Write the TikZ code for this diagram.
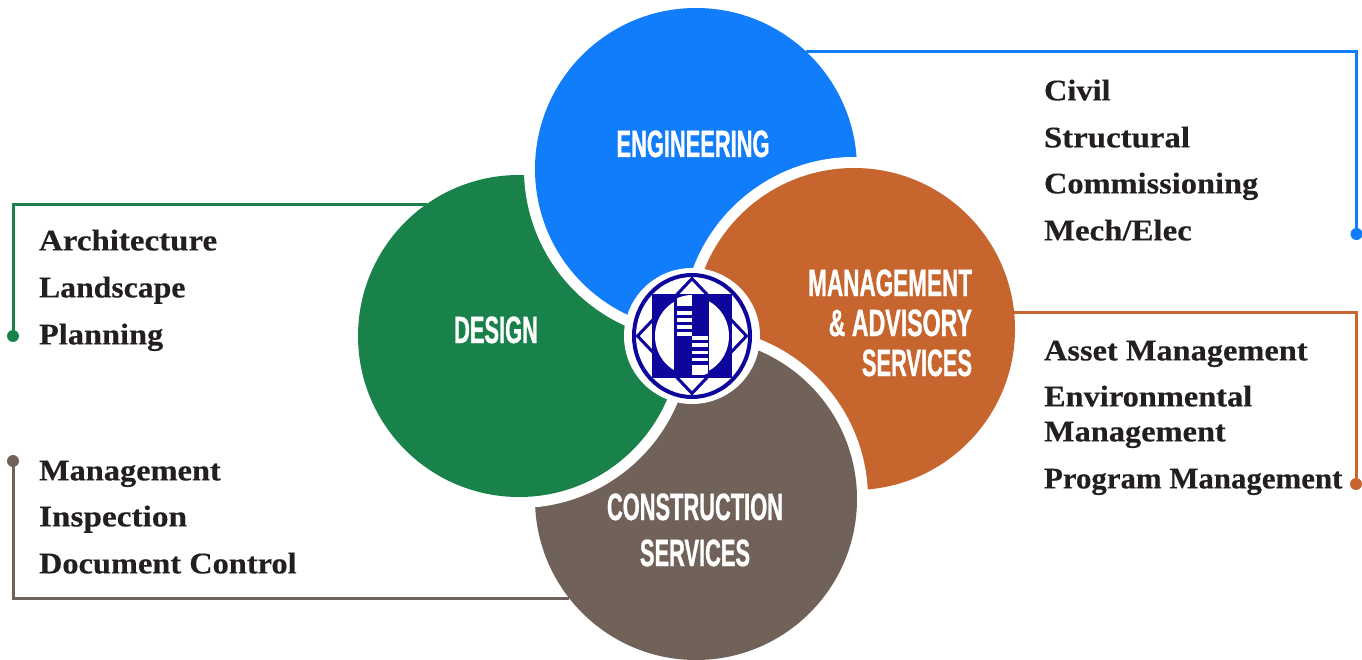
\documentclass[tikz,border=0pt]{standalone}
\usepackage{fontspec}
\newfontfamily\itemfont[FakeStretch=1.08,FakeBold=0.35]{Liberation Serif Bold}
\newfontfamily\headfont[FakeStretch=0.575,FakeBold=0.8]{Liberation Sans Bold}
\definecolor{cblue}{HTML}{117DFB}
\definecolor{cgreen}{HTML}{19824B}
\definecolor{corange}{HTML}{C6652E}
\definecolor{cbrown}{HTML}{706259}
\definecolor{cnavy}{HTML}{0E069C}
\definecolor{cink}{HTML}{231F20}
\tikzset{
  disc/.style={circle,minimum size=322pt,inner sep=0pt,outer sep=0pt},
  item/.style={anchor=base west,inner sep=0pt,outer sep=0pt,text=cink,font=\itemfont\fontsize{30pt}{30pt}\selectfont},
  head/.style={anchor=base,inner sep=0pt,outer sep=0pt,text=white,font=\headfont\fontsize{38pt}{38pt}\selectfont},
  headr/.style={head,anchor=base east},
  link/.style={line width=3pt},
  tip/.style={circle,minimum size=12pt,inner sep=0pt,outer sep=0pt},
  fit/.style={xscale=#1,transform shape},
}
\begin{document}
\begin{tikzpicture}[x=1pt,y=-1pt]
\useasboundingbox (0,0) rectangle (1362,660);
\coordinate (cb) at (696,169);
\coordinate (cg) at (519,336);
\coordinate (co) at (854,329);
\coordinate (cr) at (696,499);
% discs, cyclic overlap
\node[disc,fill=corange] (orange) at (co) {};
\fill[white] (cr) circle (172);
\node[disc,fill=cbrown] (brown) at (cr) {};
\fill[white] (cg) circle (172);
\node[disc,fill=cgreen] (green) at (cg) {};
\fill[white] (cb) circle (172);
\node[disc,fill=cblue] (blue) at (cb) {};
\begin{scope}
  \clip (680,0) rectangle (1362,335);
  \fill[white] (co) circle (172);
  \fill[corange] (co) circle (161);
\end{scope}
% logo
\fill[white] (692,336) circle (68);
\draw[cnavy,line width=4pt] (692,336) ellipse [x radius=58,y radius=61];
\draw[cnavy,line width=3pt,line join=miter] (692,278.6) -- (746.5,336) -- (692,393.4) -- (637.5,336) -- cycle;
\fill[cnavy] (652,294) rectangle (732,378);
\fill[white] (692,336) ellipse [x radius=37,y radius=39];
\begin{scope}
  \clip (692,336) ellipse [x radius=38,y radius=41];
  \fill[cnavy] (674,290) rectangle (709,382);
  \fill[white] (676.7,290) rectangle (692.3,305.7);
  \fill[white] (676.7,311) rectangle (692.3,315);
  \fill[white] (676.7,317.7) rectangle (692.3,321.7);
  \fill[white] (676.7,325) rectangle (692.3,328.7);
  \fill[white] (676.7,332.3) rectangle (692.3,336);
  \fill[white] (692.3,336) rectangle (707.7,340);
  \fill[white] (692.3,343.3) rectangle (707.7,347.3);
  \fill[white] (692.3,350.7) rectangle (707.7,354.3);
  \fill[white] (692.3,357.7) rectangle (707.7,361);
  \fill[white] (692.3,365) rectangle (707.7,375);
\end{scope}
% connector ends
\node[tip,fill=cblue] (tb) at (1356.5,234) {};
\node[tip,fill=cgreen] (tg) at (13,336) {};
\node[tip,fill=corange] (to) at (1356,484) {};
\node[tip,fill=cbrown] (tr) at (13,461) {};
\draw[link,cblue] (blue.47) -- (blue.47 -| tb) -- (tb);
\draw[link,cgreen] (green.125.5) -- (green.125.5 -| tg) -- (tg);
\draw[link,corange] (orange.6.4) -- (orange.6.4 -| to) -- (to);
\draw[link,cbrown] (brown.218.4) -- (brown.218.4 -| tr) -- (tr);
% headings
\node[head] (h1) at (693,157) {ENGINEERING};
\node[head] (h2) at (496,343) {DESIGN};
\node[headr,fit=1.03] (h3) at (972,296) {MANAGEMENT};
\node[headr,fit=1.06] (h4) at (972,336) {\& ADVISORY};
\node[headr] (h5) at (972,376) {SERVICES};
\node[head] (h6) at (695,520) {CONSTRUCTION};
\node[head] (h7) at (695,566) {SERVICES};
% lists
\node[item] (a1) at (1044,100.4) {Civil};
\node[item,fit=1.014] (a2) at (1044,147.4) {Structural};
\node[item] (a3) at (1044,193.4) {Commissioning};
\node[item,fit=1.014] (a4) at (1044,240.4) {Mech/Elec};
\node[item] (b1) at (1044,360.4) {Asset Management};
\node[item] (b2) at (1044,406.4) {Environmental};
\node[item] (b3) at (1044,441.4) {Management};
\node[item,fit=0.952] (b4) at (1044,488.4) {Program Management};
\node[item,fit=1.017] (c1) at (39,250.4) {Architecture};
\node[item,fit=0.98] (c2) at (39,297.4) {Landscape};
\node[item] (c3) at (39,344.4) {Planning};
\node[item] (d1) at (39,480.4) {Management};
\node[item,fit=1.028] (d2) at (39,526.4) {Inspection};
\node[item] (d3) at (39,573.4) {Document Control};
\end{tikzpicture}
\end{document}
